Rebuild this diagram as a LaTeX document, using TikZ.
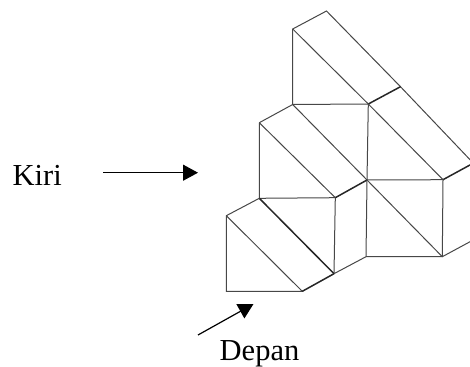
\documentclass[tikz,border=0pt]{standalone}
\usepackage{fontspec}
\setmainfont{Liberation Serif}
\usetikzlibrary{arrows.meta}
\tikzset{
	edge/.style={line width=1pt, draw=black!72},
	heavy/.style={line width=1.5pt, draw=black!85},
	pointer/.style={line width=1.2pt, -{Triangle[length=15pt,width=16pt]}},
	caption/.style={inner sep=0pt, font=\fontsize{30.5pt}{34pt}\selectfont}
}
\begin{document}
\begin{tikzpicture}[x=1pt,y=-1pt]
	\useasboundingbox (0,0) rectangle (470,366);
	\clip (0,0) rectangle (470,366);

	\coordinate (a) at (326.5,11);
	\coordinate (b) at (292.7,29);
	\coordinate (c) at (292.7,104.5);
	\coordinate (d) at (368.3,104);
	\coordinate (e) at (400.5,86.7);
	\coordinate (f) at (259.3,122.7);
	\coordinate (g) at (259.3,198.3);
	\coordinate (h) at (335.3,197.7);
	\coordinate (i) at (367,180);
	\coordinate (j) at (443,179.7);
	\coordinate (k) at (226.3,215.7);
	\coordinate (l) at (226.3,291.3);
	\coordinate (m) at (302.3,291.3);
	\coordinate (n) at (334,273.7);
	\coordinate (o) at (366,256.7);
	\coordinate (p) at (442.3,256.7);
	\coordinate (q) at (476,161.7);
	\coordinate (r) at (476,238.5);
	\coordinate (s) at (476,166);

	% top tier
	\draw[edge] (c) -- (b) -- (a) -- (e) -- (s);
	\draw[edge] (b) -- (d);
	\draw[heavy] (d) -- (e);
	\draw[edge] (f) -- (c) -- (d) -- (i);
	\draw[edge] (d) -- (j);

	% middle tier
	\draw[edge] (f) -- (g) -- (h);
	\draw[edge] (f) -- (h);
	\draw[edge] (c) -- (i);
	\draw[heavy] (h) -- (i);
	\draw[heavy] (j) -- (q);

	% right block
	\draw[edge] (i) -- (j) -- (p) -- (o) -- cycle;
	\draw[edge] (i) -- (p);
	\draw[edge] (p) -- (r);

	% bottom tier
	\draw[edge] (h) -- (n);
	\draw[heavy] (g) -- (n);
	\draw[edge] (g) -- (k) -- (l) -- (m) -- (k);
	\draw[heavy] (m) -- (n);
	\draw[edge] (n) -- (o);

	\node[caption, anchor=base west] (kiri) at (12.5,185) {Kiri};
	\node[caption, anchor=base west] (depan) at (219.5,360.5) {Depan};

	\coordinate (kiritail) at (103,172.7);
	\coordinate (kirihead) at (198,172.7);
	\coordinate (depantail) at (198,335);
	\coordinate (depanhead) at (253.5,304);
	\draw[pointer] (kiritail) -- (kirihead);
	\draw[pointer] (depantail) -- (depanhead);
\end{tikzpicture}
\end{document}
